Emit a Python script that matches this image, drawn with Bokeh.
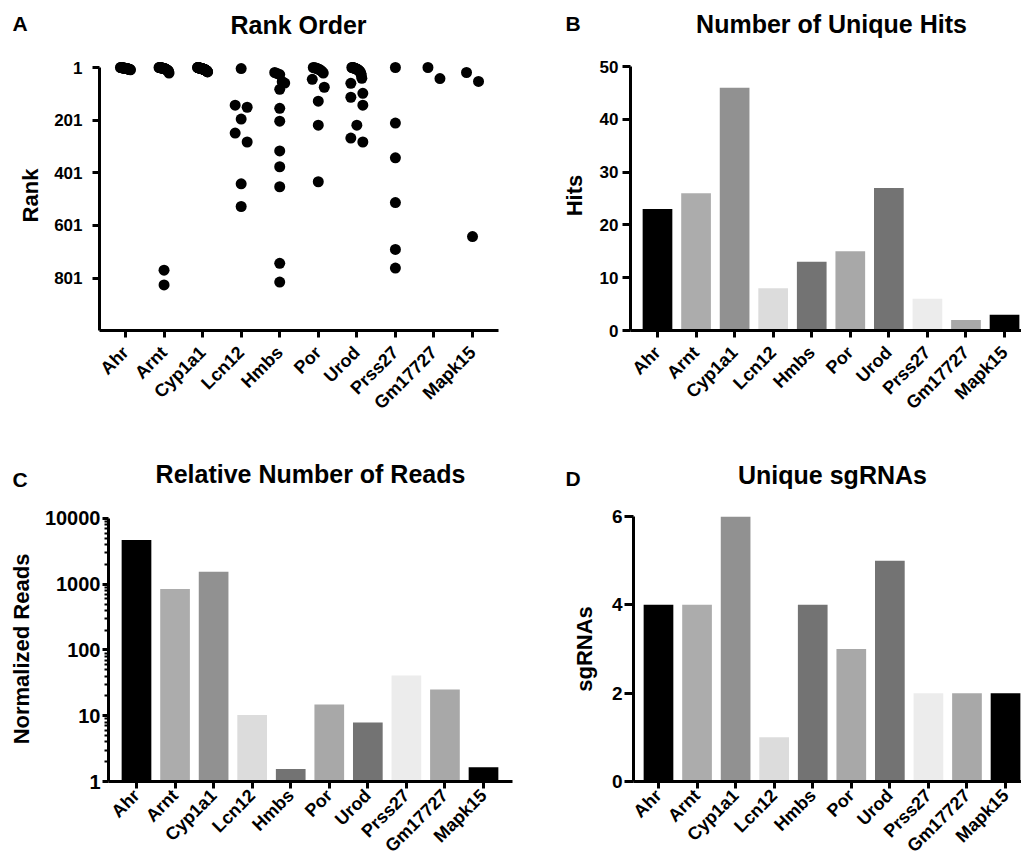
import math
from bokeh.plotting import figure
from bokeh.layouts import column, row
from bokeh.models import Range1d, FixedTicker, NumeralTickFormatter
from bokeh.core.properties import value
from bokeh.embed import file_html
from bokeh.resources import INLINE

# ---------------- data ----------------
genes = ["Ahr", "Arnt", "Cyp1a1", "Lcn12", "Hmbs", "Por", "Urod", "Prss27", "Gm17727", "Mapk15"]

rank_ahr = [1, 1, 1, 2, 2, 2, 3, 3, 3, 4, 4, 4, 5, 5, 5, 6, 6, 7, 7, 8, 8, 9, 10]
rank_arnt = [1, 1, 1, 2, 2, 2, 3, 3, 3, 4, 4, 5, 5, 6, 6, 7, 8, 9, 10, 11, 12, 14, 16, 22, 771, 827]
rank_cyp1a1 = [1, 1, 1, 1, 2, 2, 2, 2, 3, 3, 3, 3, 4, 4, 4, 4, 5, 5, 5, 5, 6, 6, 6, 6,
               7, 7, 7, 8, 8, 8, 9, 9, 9, 10, 10, 10, 11, 11, 12, 12, 13, 14, 15, 16, 17, 18]
rank_lcn12 = [5, 144, 152, 197, 250, 284, 443, 529]
rank_hmbs = [20, 24, 28, 55, 60, 84, 156, 205, 318, 378, 454, 745, 816]
rank_por = [1, 2, 3, 4, 6, 8, 10, 13, 17, 22, 46, 76, 129, 220, 435]
rank_urod = [1, 1, 2, 2, 3, 3, 4, 5, 6, 7, 8, 9, 10, 12, 14, 16, 19, 23, 30, 42, 61,
             99, 114, 144, 220, 269, 284]
rank_prss27 = [1, 212, 344, 514, 692, 763]
rank_gm17727 = [1, 43]
rank_mapk15 = [20, 54, 643]
ranks = [rank_ahr, rank_arnt, rank_cyp1a1, rank_lcn12, rank_hmbs, rank_por,
         rank_urod, rank_prss27, rank_gm17727, rank_mapk15]

hits = [23, 26, 46, 8, 13, 15, 27, 6, 2, 3]
reads = [4700, 850, 1550, 10.3, 1.55, 14.8, 7.9, 41, 25, 1.65]
sgrnas = [4, 4, 6, 1, 4, 3, 5, 2, 2, 2]

bar_colors = ["#000000", "#acacac", "#919191", "#dcdcdc", "#737373",
              "#a8a8a8", "#737373", "#ececec", "#a8a8a8", "#000000"]

rank_ticks = [1, 201, 401, 601, 801]
hits_ticks = [0, 10, 20, 30, 40, 50]
reads_ticks = [1, 10, 100, 1000, 10000]
sg_ticks = [0, 2, 4, 6]

panel_letters = ["A", "B", "C", "D"]
panel_titles = ["Rank Order", "Number of Unique Hits", "Relative Number of Reads", "Unique sgRNAs"]

FONT = "Liberation Sans"
xs = list(range(len(genes)))


def style(p, ytick_px, xtick_px, xstand, lab_px, ytick_out, ystand, ylab_stand):
    p.title.visible = False
    p.xgrid.visible = False
    p.ygrid.visible = False
    p.outline_line_color = None
    for ax in (p.xaxis[0], p.yaxis[0]):
        ax.axis_line_width = 3
        ax.axis_line_color = "black"
        ax.major_tick_line_width = 3
        ax.major_tick_line_color = "black"
        ax.major_tick_in = 0
        ax.minor_tick_line_color = None
        ax.major_label_text_font = FONT
        ax.major_label_text_font_style = "bold"
        ax.major_label_text_color = "black"
        ax.axis_label_text_font = FONT
        ax.axis_label_text_font_style = "bold"
        ax.axis_label_text_font_size = f"{lab_px}px"
        ax.axis_label_text_color = "black"
    xa = p.xaxis[0]
    xa.ticker = FixedTicker(ticks=xs)
    xa.major_label_overrides = {i: g for i, g in enumerate(genes)}
    xa.major_label_orientation = math.pi / 4
    xa.major_tick_out = 7
    xa.major_label_standoff = xstand
    xa.major_label_text_font_size = f"{xtick_px}px"
    ya = p.yaxis[0]
    ya.major_label_text_font_size = f"{ytick_px}px"
    ya.major_tick_out = ytick_out
    ya.major_label_standoff = ystand
    ya.axis_label_standoff = ylab_stand


def header(height, xs_txt, ys_txt, texts, sizes, aligns):
    h = figure(width=1021, height=height, x_range=Range1d(0, 1021), y_range=Range1d(height, 0),
               output_backend="svg", toolbar_location=None, min_border=0)
    h.title.visible = False
    h.axis.visible = False
    h.grid.visible = False
    h.outline_line_color = None
    for x, y, t, s, a in zip(xs_txt, ys_txt, texts, sizes, aligns):
        h.text(x=[x], y=[y], text=[t], text_font=value(FONT), text_font_style="bold",
               text_font_size=value(f"{s}px"), text_align=a, text_baseline="alphabetic",
               text_color="black")
    return h


def swarm_offsets(vals, px_per_val, px_per_cat, bin_px=11.5):
    order = sorted(range(len(vals)), key=lambda i: vals[i])
    offs = [0.0] * len(vals)
    bins, cur, start = [], [], None
    for i in order:
        y = vals[i] * px_per_val
        if cur and y - start > bin_px:
            bins.append(cur)
            cur = []
        if not cur:
            start = y
        cur.append(i)
    if cur:
        bins.append(cur)
    for b in bins:
        n = len(b)
        if n < 2:
            continue
        spread = 12.0 if n == 2 else 10.0
        for k, i in enumerate(b):
            offs[i] = (-spread / 2 + spread * k / (n - 1)) / px_per_cat
    return offs


# ---------------- headers ----------------
hTop = header(48, [12, 298, 565, 831], [22.7, 24.3, 22.7, 23.3],
              [panel_letters[0], panel_titles[0], panel_letters[1], panel_titles[1]],
              [21, 25, 21, 25], ["left", "center", "left", "center"])
hBot = header(60, [12, 310, 565, 832], [38.7, 33.3, 37.7, 34.3],
              [panel_letters[2], panel_titles[2], panel_letters[3], panel_titles[3]],
              [21, 25, 21, 25], ["left", "center", "left", "center"])

# ---------------- Panel A ----------------
ax0, ax1 = -0.674, 9.674
ay0, ay1 = 1000, -25.6
A_W, A_H, A_L, A_R, A_T, A_B = 505, 392, 99, 7, 12, 110
pA = figure(width=A_W, height=A_H, x_range=Range1d(ax0, ax1), y_range=Range1d(ay0, ay1),
            output_backend="svg", toolbar_location=None, min_border_left=A_L,
            min_border_right=A_R, min_border_top=A_T, min_border_bottom=A_B)
style(pA, 17, 18, 12, 22, 7, 10, 8)
pA.yaxis[0].ticker = FixedTicker(ticks=rank_ticks)
pA.yaxis[0].bounds = (1, 1000)
pA.yaxis[0].axis_label = "Rank"
px_cat_A = (A_W - A_L - A_R) / (ax1 - ax0)
px_rank_A = (A_H - A_T - A_B) / (ay0 - ay1)
sx, sy = [], []
for gi, rv in enumerate(ranks):
    offs = swarm_offsets(rv, px_rank_A, px_cat_A)
    for r, o in zip(rv, offs):
        sx.append(gi + o)
        sy.append(r)
pA.scatter(sx, sy, size=11, color="black", line_color=None)

# ---------------- Panel B ----------------
pB = figure(width=516, height=392, x_range=Range1d(-0.70, 9.44), y_range=Range1d(0, 51.14),
            output_backend="svg", toolbar_location=None, min_border_left=125,
            min_border_right=0, min_border_top=12, min_border_bottom=110)
style(pB, 17, 18, 12, 22, 8, 4, 10)
pB.yaxis[0].ticker = FixedTicker(ticks=hits_ticks)
pB.yaxis[0].bounds = (0, 50)
pB.yaxis[0].axis_label = "Hits"
pB.vbar(x=xs, top=hits, bottom=0, width=0.77, fill_color=bar_colors, line_color=None)

# ---------------- Panel C ----------------
minor_reads = [m * 10 ** k for k in range(4) for m in range(2, 10)]
pC = figure(width=518, height=366, x_range=Range1d(-0.726, 9.752), y_range=Range1d(1, 10722),
            y_axis_type="log", output_backend="svg", toolbar_location=None,
            min_border_left=108, min_border_right=6, min_border_top=16, min_border_bottom=84)
style(pC, 20, 18, 4, 22, 6, 2, 8)
pC.yaxis[0].ticker = FixedTicker(ticks=reads_ticks, minor_ticks=minor_reads)
pC.yaxis[0].bounds = (1, 10000)
pC.yaxis[0].formatter = NumeralTickFormatter(format="0")
pC.yaxis[0].major_label_overrides = {float(t): str(t) for t in reads_ticks}
pC.yaxis[0].minor_tick_line_color = "black"
pC.yaxis[0].minor_tick_line_width = 2
pC.yaxis[0].minor_tick_in = 0
pC.yaxis[0].minor_tick_out = 4
pC.yaxis[0].axis_label = "Normalized Reads"
pC.vbar(x=xs, top=reads, bottom=1, width=0.77, fill_color=bar_colors, line_color=None)

# ---------------- Panel D ----------------
pD = figure(width=503, height=366, x_range=Range1d(-0.648, 9.414), y_range=Range1d(0, 6),
            output_backend="svg", toolbar_location=None, min_border_left=115,
            min_border_right=0, min_border_top=16, min_border_bottom=84)
style(pD, 19, 18, 4, 22, 9, 2, 12)
pD.yaxis[0].ticker = FixedTicker(ticks=sg_ticks)
pD.yaxis[0].axis_label = "sgRNAs"
pD.vbar(x=xs, top=sgrnas, bottom=0, width=0.77, fill_color=bar_colors, line_color=None)

layout = column(hTop, row(pA, pB), hBot, row(pC, pD))
open("out.html", "w").write(file_html(layout, INLINE))
